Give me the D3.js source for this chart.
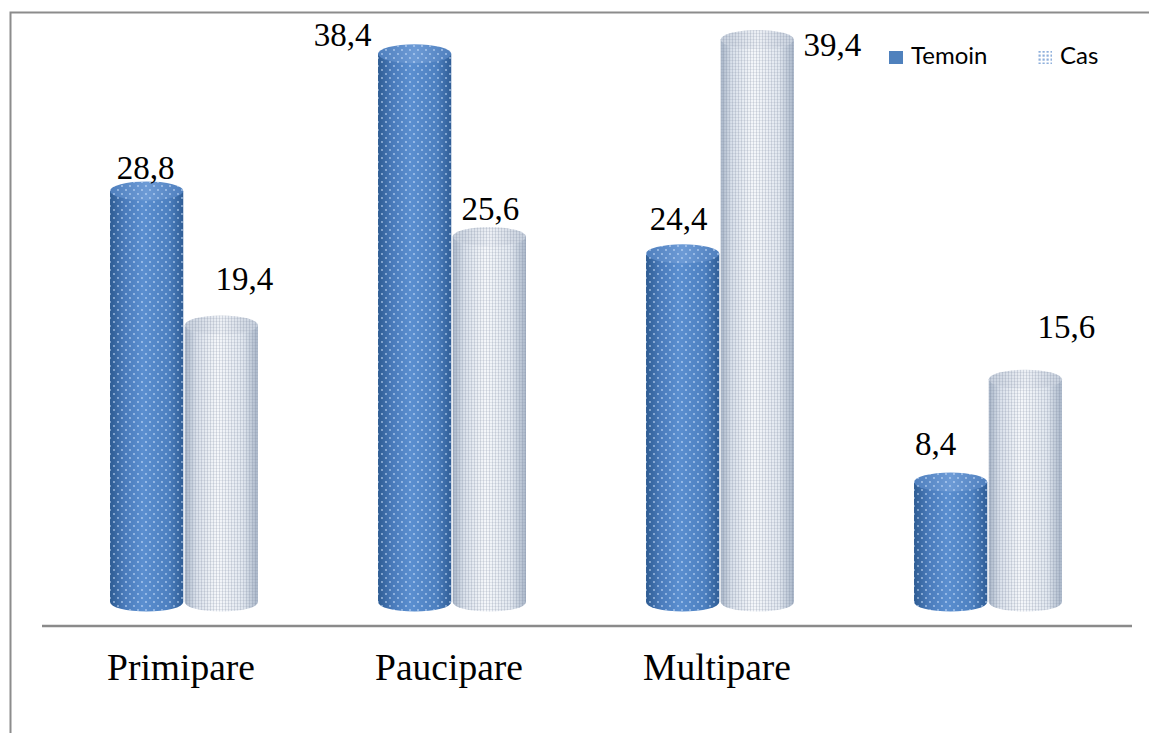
<!DOCTYPE html>
<html>
<head>
<meta charset="utf-8">
<script src="https://cdn.jsdelivr.net/npm/d3@7"></script>
<style>
  html, body { margin: 0; padding: 0; background: #fff; }
  svg { display: block; }
</style>
</head>
<body>
<svg id="chart" width="1149" height="733"></svg>
<script>
const categories = ["Primipare", "Paucipare", "Multipare", ""];
const seriesNames = ["Temoin", "Cas"];
const temoinValues = [28.8, 38.4, 24.4, 8.4];
const casValues = [19.4, 25.6, 39.4, 15.6];
const valueLabels = [["28,8", "38,4", "24,4", "8,4"], ["19,4", "25,6", "39,4", "15,6"]];
// label offsets (dx from bar centre, dy from bar top) per series, per category
const labelOffsets = [
  [[-1, -12], [-72, -8], [-4, -24], [-15, -27]],
  [[23, -35], [1, -17], [75, 16], [41, -41]]
];

const W = 1149, H = 733;
const svg = d3.select("#chart");
const defs = svg.append("defs");

// frame
svg.append("path").attr("d", "M10.5,733 L10.5,12.5 L1149,12.5")
  .attr("fill", "none").attr("stroke", "#8c8c8c").attr("stroke-width", 2);

const x0 = d3.scaleBand().domain(d3.range(categories.length)).range([50, 1122])
  .paddingInner(0.448).paddingOuter(0.224);
const x1 = d3.scaleBand().domain(seriesNames).range([0, x0.bandwidth()]).paddingInner(0.02);
const y = d3.scaleLinear().domain([0, 40]).range([602, 31]);

// gradients
function hGrad(id, stops) {
  const g = defs.append("linearGradient").attr("id", id).attr("x1", "0").attr("x2", "1").attr("y1", "0").attr("y2", "0");
  stops.forEach(s => g.append("stop").attr("offset", s[0]).attr("stop-color", s[1]));
}
hGrad("gT", [[0, "#2e5c93"], [0.2, "#4a7bbb"], [0.45, "#5b8fd0"], [0.8, "#4d80c0"], [1, "#2f5d96"]]);
hGrad("gTtop", [[0, "#4f7fbd"], [0.5, "#6d9bd6"], [1, "#4f7fbd"]]);
hGrad("gC", [[0, "#a9b6c8"], [0.15, "#d9e0ea"], [0.45, "#f5f7fa"], [0.8, "#e1e7ef"], [1, "#aab7c9"]]);
hGrad("gCtop", [[0, "#c6cfdc"], [0.5, "#edf0f5"], [1, "#c6cfdc"]]);

// patterns
const pT = defs.append("pattern").attr("id", "pT").attr("patternUnits", "userSpaceOnUse")
  .attr("width", 8).attr("height", 8);
pT.append("circle").attr("cx", 2).attr("cy", 2).attr("r", 0.9).attr("fill", "rgba(210,230,255,0.7)");
pT.append("circle").attr("cx", 6).attr("cy", 6).attr("r", 0.9).attr("fill", "rgba(210,230,255,0.7)");
const pC = defs.append("pattern").attr("id", "pC").attr("patternUnits", "userSpaceOnUse")
  .attr("width", 3).attr("height", 3);
pC.append("rect").attr("x", 0).attr("y", 0).attr("width", 1).attr("height", 3).attr("fill", "rgba(110,125,150,0.22)");
pC.append("rect").attr("x", 0).attr("y", 0).attr("width", 3).attr("height", 1).attr("fill", "rgba(110,125,150,0.14)");
const pL = defs.append("pattern").attr("id", "pL").attr("patternUnits", "userSpaceOnUse")
  .attr("width", 4).attr("height", 4);
pL.append("rect").attr("x", 0).attr("y", 0).attr("width", 4).attr("height", 4).attr("fill", "#fff");
pL.append("rect").attr("x", 0.5).attr("y", 0.5).attr("width", 2.2).attr("height", 2.2).attr("fill", "#8fb0dc");

const seriesData = [temoinValues, casValues];
const fills = [["url(#gT)", "url(#gTtop)", "url(#pT)"], ["url(#gC)", "url(#gCtop)", "url(#pC)"]];
const ry = 9.5;

const bars = [];
categories.forEach((c, i) => {
  seriesNames.forEach((s, j) => {
    bars.push({ i, j, v: seriesData[j][i] });
  });
});

const g = svg.append("g");
const cyl = g.selectAll("g.cyl").data(bars).join("g").attr("class", "cyl");
cyl.each(function(d) {
  const sel = d3.select(this);
  const xl = x0(d.i) + x1(seriesNames[d.j]);
  const w = x1.bandwidth();
  const cx = xl + w / 2, rx = w / 2;
  const yt = y(d.v), yb = y(0);
  const body = `M${xl},${yt} L${xl},${yb} A${rx},${ry} 0 0 0 ${xl + w},${yb} L${xl + w},${yt} Z`;
  sel.append("path").attr("d", body).attr("fill", fills[d.j][0]);
  sel.append("path").attr("d", body).attr("fill", fills[d.j][2]);
  sel.append("ellipse").attr("cx", cx).attr("cy", yt).attr("rx", rx).attr("ry", ry).attr("fill", fills[d.j][1]);
  sel.append("ellipse").attr("cx", cx).attr("cy", yt).attr("rx", rx).attr("ry", ry).attr("fill", fills[d.j][2]);
  const off = labelOffsets[d.j][d.i];
  sel.append("text").attr("x", cx + off[0]).attr("y", yt + off[1])
    .attr("text-anchor", "middle").attr("font-family", "Liberation Serif, Times New Roman, serif")
    .attr("font-size", 33).attr("fill", "#000").text(valueLabels[d.j][d.i]);
});

// axis
const axisG = svg.append("g").attr("transform", "translate(0,626)");
axisG.append("line").attr("x1", 42).attr("x2", 1132).attr("y1", 0).attr("y2", 0)
  .attr("stroke", "#8a8a8a").attr("stroke-width", 2.5);
axisG.selectAll("text.cat").data(categories).join("text").attr("class", "cat")
  .attr("x", (d, i) => x0(i) + x0.bandwidth() / 2 - 3).attr("y", 54)
  .attr("text-anchor", "middle").attr("font-family", "Liberation Serif, Times New Roman, serif")
  .attr("font-size", 37.5).attr("fill", "#000").text(d => d);

// legend
const legend = svg.append("g");
const legX = [889, 1038];
seriesNames.forEach((s, j) => {
  const lg = legend.append("g").attr("transform", `translate(${legX[j]},50)`);
  if (j === 0) {
    lg.append("rect").attr("x", 0).attr("y", 1).attr("width", 14).attr("height", 13).attr("fill", "#4f81bd");
  } else {
    lg.append("rect").attr("x", 0).attr("y", 1).attr("width", 14).attr("height", 13).attr("fill", "url(#pL)");
  }
  lg.append("text").attr("x", 22).attr("y", 14).attr("font-family", "Lato, Carlito, Calibri, sans-serif")
    .attr("font-size", 24).attr("fill", "#000").text(s);
});
</script>
</body>
</html>
